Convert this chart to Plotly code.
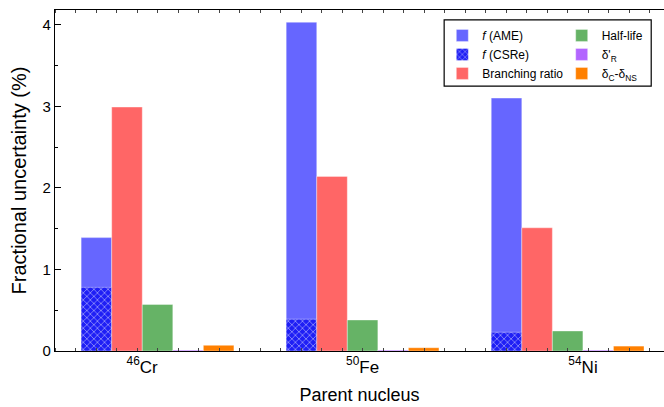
import plotly.graph_objects as go

# ---- data ----
nuclei = ["<sup>46</sup>Cr", "<sup>50</sup>Fe", "<sup>54</sup>Ni"]
group_pos = [1, 2, 3]
f_ame = [1.39, 4.03, 3.10]
f_csre = [0.78, 0.39, 0.23]
branching = [2.99, 2.14, 1.51]
half_life = [0.57, 0.38, 0.245]
delta_r = [0.01, 0.01, 0.01]
delta_c_ns = [0.07, 0.04, 0.06]

FONT = "Liberation Sans, Arial, sans-serif"

fig = go.Figure()
line = dict(color="rgba(255,255,255,0.6)", width=0.6)

fig.add_bar(x=group_pos, y=f_ame, name="<i>f</i> (AME)", offsetgroup="a",
            marker=dict(color="#6666FF", line=line), legend="legend", legendrank=1)
fig.add_bar(x=group_pos, y=f_csre, name="<i>f</i> (CSRe)", offsetgroup="a",
            marker=dict(color="#2323F5", line=line,
                        pattern=dict(shape="x", fgcolor="white", bgcolor="#1f1ff5",
                                     size=5, solidity=0.3)),
            legend="legend", legendrank=2)
fig.add_bar(x=group_pos, y=branching, name="Branching ratio", offsetgroup="b",
            marker=dict(color="#FF6666", line=line), legend="legend", legendrank=3)
fig.add_bar(x=group_pos, y=half_life, name="Half-life", offsetgroup="c",
            marker=dict(color="#66B366", line=line), legend="legend2", legendrank=1)
fig.add_bar(x=group_pos, y=delta_r, name="δ'<sub>R</sub>", offsetgroup="d",
            marker=dict(color="#B366FF", line=line), legend="legend2", legendrank=2)
fig.add_bar(x=group_pos, y=delta_c_ns, name="δ<sub>C</sub>-δ<sub>NS</sub>", offsetgroup="e",
            marker=dict(color="#FF8000", line=line), legend="legend2", legendrank=3)

label_shift = 0.075
tickvals = [p + (p - 2) * label_shift for p in group_pos]

fig.update_layout(
    width=664, height=407,
    margin=dict(l=55, r=0, t=10, b=56),
    paper_bgcolor="white", plot_bgcolor="white",
    barmode="group", bargap=0.255, bargroupgap=0,
    font=dict(family=FONT, size=14, color="black"),
    legend=dict(x=0.636, y=0.968, xanchor="left", yanchor="top",
                bgcolor="rgba(0,0,0,0)", font=dict(family=FONT, size=12),
                tracegroupgap=0, itemwidth=30, traceorder="normal"),
    legend2=dict(x=0.832, y=0.968, xanchor="left", yanchor="top",
                 bgcolor="rgba(0,0,0,0)", font=dict(family=FONT, size=12),
                 tracegroupgap=0, itemwidth=30, traceorder="normal"),
    shapes=[dict(type="rect", xref="paper", yref="paper",
                 x0=0.639, x1=0.979, y0=0.777, y1=0.971,
                 line=dict(color="black", width=1.2), fillcolor="rgba(0,0,0,0)")],
)

fig.update_xaxes(
    range=[0.5, 3.47], tickvals=tickvals, ticktext=nuclei,
    tickfont=dict(size=17), ticks="", showgrid=False, zeroline=False,
    showline=True, linecolor="black", linewidth=1.3, mirror="ticks",
    minor=dict(ticks="inside", dtick=0.1, tick0=0.5, ticklen=3,
               tickcolor="#444", showgrid=False),
    title=dict(text="Parent nucleus", font=dict(size=18), standoff=12),
)
fig.update_yaxes(
    range=[0, 4.18], tickvals=[0, 1, 2, 3, 4], ticks="inside", ticklen=6,
    tickcolor="black", showgrid=False, zeroline=False,
    showline=True, linecolor="black", linewidth=1.3, mirror=False,
    minor=dict(ticks="inside", dtick=0.5, ticklen=3, tickcolor="black", showgrid=False),
    tickfont=dict(size=15),
    title=dict(text="Fractional uncertainty (%)", font=dict(size=20), standoff=10),
)

fig.write_html("out.html")
